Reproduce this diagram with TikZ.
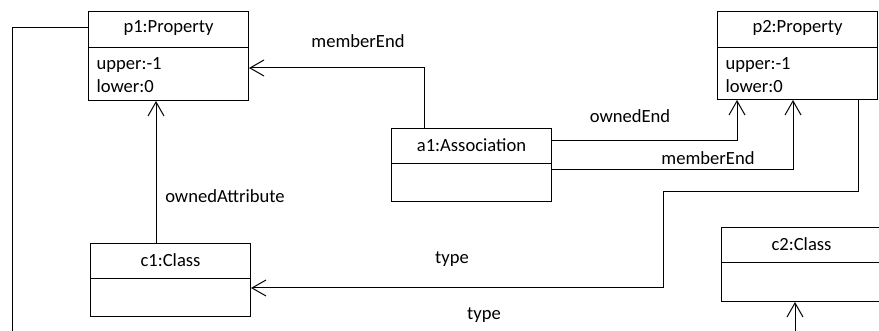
\documentclass[tikz,border=0pt]{standalone}
\usepackage{fontspec}
\setmainfont{Carlito}
\usetikzlibrary{arrows.meta}

\tikzset{
  objbox/.style={draw, rectangle, minimum width=160pt, anchor=north west, inner sep=0pt},
  attr/.style={anchor=west, inner sep=0pt},
  uml/.style={-{Straight Barb[length=14pt,width=16pt]}}
}

\begin{document}
\begin{tikzpicture}[x=1pt, y=-1pt, line width=1pt, font=\fontsize{18.6}{22}\selectfont]
        \useasboundingbox (0,0) rectangle (879,331);
        \clip (0,0) rectangle (879,331);
        % objects
        \node[objbox, minimum height=89pt] (p1) at (88,11) {};
        \node[objbox, minimum height=88pt] (p2) at (717,11) {};
        \node[objbox, minimum height=73pt] (a1) at (391,128) {};
        \node[objbox, minimum height=73pt] (c1) at (90,243) {};
        \node[objbox, minimum height=74pt] (c2) at (721,227) {};
        \draw ([yshift=-37pt]p1.north west) -- ([yshift=-37pt]p1.north east);
        \draw ([yshift=-37pt]p2.north west) -- ([yshift=-37pt]p2.north east);
        \draw ([yshift=-36pt]a1.north west) -- ([yshift=-36pt]a1.north east);
        \draw ([yshift=-36pt]c1.north west) -- ([yshift=-36pt]c1.north east);
        \draw ([yshift=-36pt]c2.north west) -- ([yshift=-36pt]c2.north east);
        \node (p1t) at ([yshift=-17pt]p1.north) {p1:Property};
        \node (p2t) at ([yshift=-17pt]p2.north) {p2:Property};
        \node (a1t) at ([yshift=-17pt]a1.north) {a1:Association};
        \node (c1t) at ([yshift=-17pt]c1.north) {c1:Class};
        \node (c2t) at ([yshift=-17pt]c2.north) {c2:Class};
        \node[attr] (p1u) at ([xshift=8pt,yshift=-54pt]p1.north west) {upper:-1};
        \node[attr] (p1l) at ([xshift=8pt,yshift=-75pt]p1.north west) {lower:0};
        \node[attr] (p2u) at ([xshift=8pt,yshift=-54pt]p2.north west) {upper:-1};
        \node[attr] (p2l) at ([xshift=8pt,yshift=-75pt]p2.north west) {lower:0};
        % links
        \coordinate (bend) at (663,192);
        \coordinate (low) at (12,345);
        \draw[uml] ([xshift=33pt]a1.north west) |- ([yshift=-57pt]p1.north east);
        \draw[uml] ([xshift=66pt]c1.north west) -- ([xshift=66pt]c1.north west |- p1.south);
        \draw[uml] ([yshift=-13pt]a1.north east) -| ([xshift=20pt]p2.south west);
        \draw[uml] ([yshift=-42pt]a1.north east) -| ([xshift=76pt]p2.south west);
        \draw[uml] ([xshift=141pt]p2.south west) |- (bend) |- ([yshift=-45pt]c1.north east);
        \draw[uml] ([yshift=-17pt]p1.north west) -| (low) -| ([xshift=74pt]c2.south west);
        \node (l1) at (358,41) {memberEnd};
        \node (l2) at (225,196) {ownedAttribute};
        \node (l3) at (630,116) {ownedEnd};
        \node (l4) at (708,158) {memberEnd};
        \node (l5) at (452,259) {type};
        \node (l6) at (484,315) {type};
\end{tikzpicture}
\end{document}
